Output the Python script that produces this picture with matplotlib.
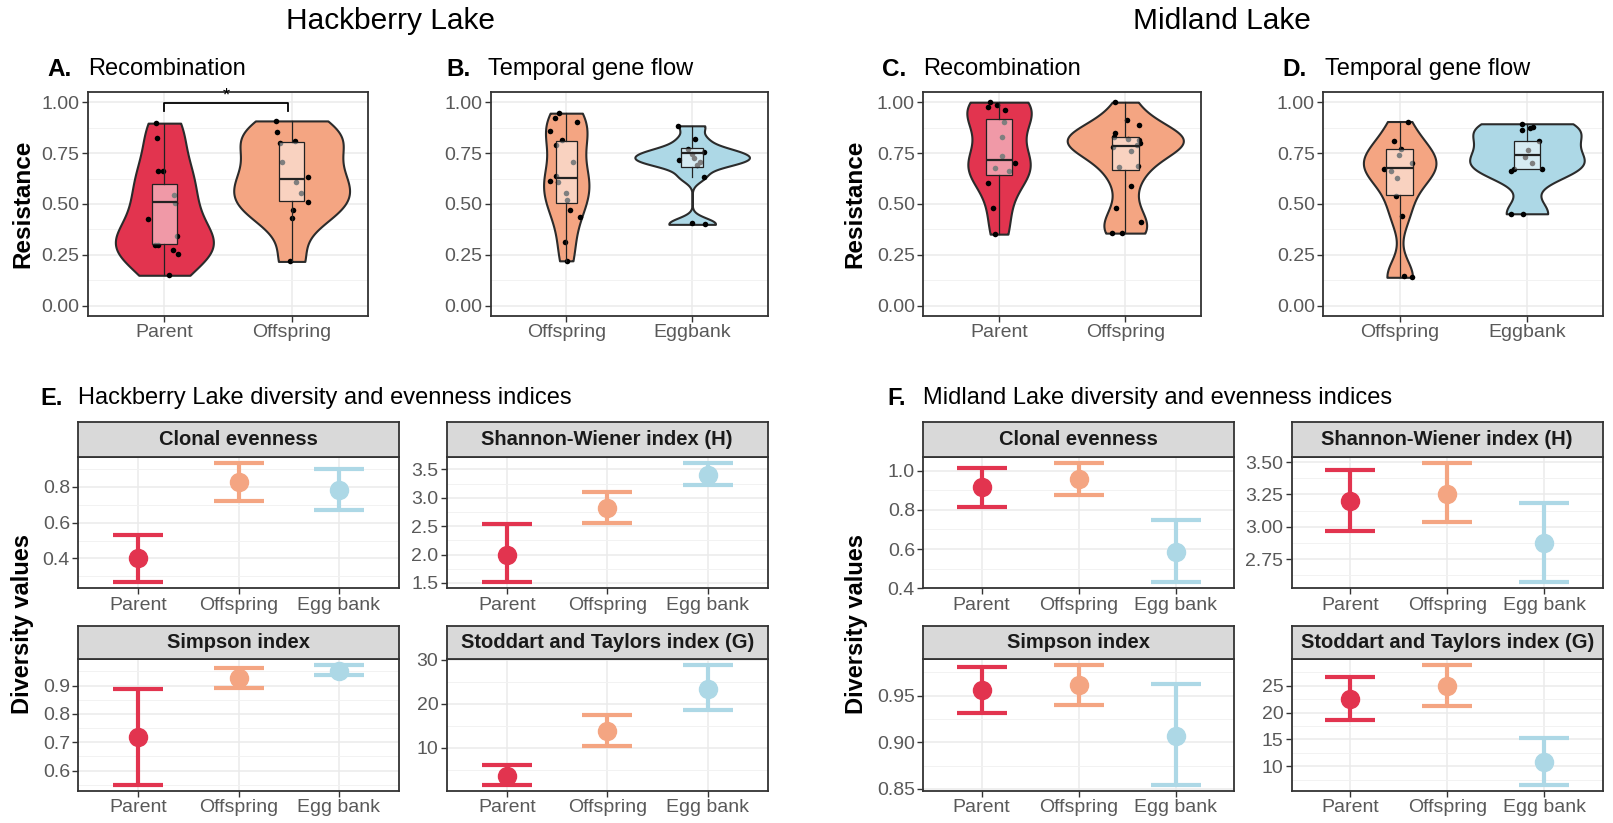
"""Hackberry / Midland lake resistance violins and diversity index facets."""

import matplotlib

matplotlib.use("Agg")
import matplotlib.pyplot as plt
import numpy as np
from matplotlib.ticker import AutoMinorLocator

plt.rcParams["font.family"] = ["Liberation Sans", "DejaVu Sans"]

W, H = 1613, 823
RED, ORANGE, BLUE = "#E2344F", "#F4A582", "#ADD8E6"
DARK = "#333333"
TICKC = "#595959"

# ---- violin panels (resistance) ----
HB_REC_PARENT = [0.15, 0.254, 0.275, 0.30, 0.30, 0.344, 0.427, 0.504, 0.542, 0.66, 0.664, 0.823, 0.897]
HB_REC_OFFSPRING = [0.218, 0.43, 0.471, 0.512, 0.553, 0.61, 0.635, 0.704, 0.80, 0.807, 0.856, 0.908]
HB_TGF_OFFSPRING = [0.221, 0.311, 0.434, 0.471, 0.52, 0.556, 0.61, 0.614, 0.638, 0.704,
                    0.79, 0.815, 0.86, 0.905, 0.92, 0.946]
HB_TGF_EGGBANK = [0.40, 0.405, 0.635, 0.69, 0.705, 0.717, 0.725, 0.745, 0.755, 0.77, 0.818, 0.884]
ML_REC_PARENT = [0.352, 0.48, 0.605, 0.66, 0.676, 0.70, 0.735, 0.828, 0.902, 0.962, 0.975, 0.985, 1.0]
ML_REC_OFFSPRING = [0.357, 0.36, 0.414, 0.48, 0.589, 0.68, 0.687, 0.758, 0.78, 0.79, 0.80,
                    0.815, 0.82, 0.83, 0.848, 0.889, 0.913, 1.0]
ML_TGF_OFFSPRING = [0.14, 0.144, 0.44, 0.54, 0.63, 0.66, 0.67, 0.70, 0.741, 0.769, 0.807, 0.905]
ML_TGF_EGGBANK = [0.452, 0.452, 0.66, 0.671, 0.671, 0.70, 0.733, 0.766, 0.807, 0.864, 0.872,
                  0.88, 0.894]

# box stats: (whislo, q1, med, q3, whishi)
HB_REC_BOX = [(0.15, 0.303, 0.509, 0.597, 0.895), (0.218, 0.515, 0.624, 0.804, 0.908)]
HB_TGF_BOX = [(0.221, 0.504, 0.63, 0.807, 0.946), (0.635, 0.684, 0.75, 0.777, 0.884)]
ML_REC_BOX = [(0.352, 0.642, 0.717, 0.917, 1.0), (0.357, 0.668, 0.787, 0.828, 1.0)]
ML_TGF_BOX = [(0.14, 0.542, 0.676, 0.769, 0.905), (0.671, 0.671, 0.741, 0.81, 0.894)]

REC_CATS = ["Parent", "Offspring"]
TGF_CATS = ["Offspring", "Eggbank"]
RES_TICKS = [0.0, 0.25, 0.5, 0.75, 1.0]
RES_TICKLABELS = ["0.00", "0.25", "0.50", "0.75", "1.00"]

# ---- diversity facets: mean, lower, upper for Parent / Offspring / Egg bank ----
DIV_CATS = ["Parent", "Offspring", "Egg bank"]
HB_CLONAL = ([0.40, 0.824, 0.78], [0.267, 0.72, 0.669], [0.53, 0.934, 0.897])
HB_SHANNON = ([2.0, 2.82, 3.41], [1.51, 2.56, 3.23], [2.53, 3.10, 3.62])
HB_SIMPSON = ([0.72, 0.928, 0.95], [0.55, 0.893, 0.938], [0.888, 0.962, 0.974])
HB_STODDART = ([3.5, 13.8, 23.4], [1.6, 10.4, 18.5], [6.1, 17.55, 28.9])
ML_CLONAL = ([0.915, 0.958, 0.586], [0.815, 0.876, 0.432], [1.014, 1.04, 0.746])
ML_SHANNON = ([3.196, 3.255, 2.876], [2.964, 3.033, 2.57], [3.436, 3.495, 3.186])
ML_SIMPSON = ([0.956, 0.961, 0.907], [0.9315, 0.94, 0.8546], [0.981, 0.983, 0.962])
ML_STODDART = ([22.6, 25.0, 10.75], [18.6, 21.25, 6.57], [26.6, 28.9, 15.3])

HB_CLONAL_TICKS, HB_CLONAL_LABELS = [0.4, 0.6, 0.8], ["0.4", "0.6", "0.8"]
HB_SHANNON_TICKS, HB_SHANNON_LABELS = [1.5, 2.0, 2.5, 3.0, 3.5], ["1.5", "2.0", "2.5", "3.0", "3.5"]
HB_SIMPSON_TICKS, HB_SIMPSON_LABELS = [0.6, 0.7, 0.8, 0.9], ["0.6", "0.7", "0.8", "0.9"]
HB_STODDART_TICKS, HB_STODDART_LABELS = [10, 20, 30], ["10", "20", "30"]
ML_CLONAL_TICKS, ML_CLONAL_LABELS = [0.4, 0.6, 0.8, 1.0], ["0.4", "0.6", "0.8", "1.0"]
ML_SHANNON_TICKS, ML_SHANNON_LABELS = [2.75, 3.0, 3.25, 3.5], ["2.75", "3.00", "3.25", "3.50"]
ML_SIMPSON_TICKS, ML_SIMPSON_LABELS = [0.85, 0.90, 0.95], ["0.85", "0.90", "0.95"]
ML_STODDART_TICKS, ML_STODDART_LABELS = [10, 15, 20, 25], ["10", "15", "20", "25"]


def rect(x0, y0, x1, y1):
    return [x0 / W, 1 - y1 / H, (x1 - x0) / W, (y1 - y0) / H]


def nrd0(kde):
    # R's bw.nrd0 (with a slight adjust) expressed as a factor of the sample sd
    d = np.asarray(kde.dataset).ravel()
    sd = d.std(ddof=1)
    q75, q25 = np.percentile(d, [75, 25])
    lo = min(sd, (q75 - q25) / 1.34) if q75 > q25 else sd
    return 0.85 * 0.9 * lo * len(d) ** -0.2 / sd


def style(ax):
    ax.set_facecolor("white")
    for s in ax.spines.values():
        s.set_color(DARK)
        s.set_linewidth(1.3)
    ax.yaxis.set_minor_locator(AutoMinorLocator(2))
    ax.grid(True, which="major", color="#EBEBEB", lw=1.1)
    ax.grid(True, which="minor", axis="y", color="#F2F2F2", lw=0.7)
    ax.set_axisbelow(True)
    ax.tick_params(which="major", length=4, width=1, color=DARK, labelcolor=TICKC,
                   labelsize=14, pad=2)
    ax.tick_params(which="minor", length=0)


rng = np.random.default_rng(7)


def violin_panel(box, data, box_stats, cats, colors, vwidths, bwidth):
    ax = fig.add_axes(rect(*box))
    style(ax)
    pos = [1, 2]
    parts = ax.violinplot(data, positions=pos, widths=vwidths, showextrema=False,
                          points=300, bw_method=nrd0)
    for body, c in zip(parts["bodies"], colors):
        body.set_facecolor(c)
        body.set_edgecolor("#2b2b2b")
        body.set_linewidth(1.5)
        body.set_alpha(1)
        body.set_zorder(2)
    for p, vals in zip(pos, data):
        jit = rng.uniform(-0.13, 0.13, len(vals))
        ax.scatter(p + jit, vals, s=16, color="black", zorder=3, lw=0)
    stats = [dict(whislo=b[0], q1=b[1], med=b[2], q3=b[3], whishi=b[4], fliers=[])
             for b in box_stats]
    ax.bxp(stats, positions=pos, widths=bwidth, patch_artist=True, showfliers=False,
           showcaps=False, zorder=4,
           boxprops=dict(facecolor=(1, 1, 1, 0.5), edgecolor="#222222", lw=0.9),
           medianprops=dict(color="#222222", lw=1.6),
           whiskerprops=dict(color="#222222", lw=0.9))
    ax.set_xlim(0.4, 2.6)
    ax.set_ylim(-0.05, 1.05)
    ax.set_yticks(RES_TICKS)
    ax.set_yticklabels(RES_TICKLABELS)
    ax.set_xticks(pos)
    ax.set_xticklabels(cats)
    return ax


def facet(box, strip, title, series, ticks, labels):
    ax = fig.add_axes(rect(*box))
    style(ax)
    mean, lo, hi = series
    for i, c in enumerate([RED, ORANGE, BLUE]):
        ax.errorbar([i + 1], [mean[i]], yerr=[[mean[i] - lo[i]], [hi[i] - mean[i]]],
                    fmt="o", color=c, ms=13, elinewidth=3, capsize=18, capthick=3,
                    zorder=3)
    ax.set_xlim(0.4, 3.6)
    ax.margins(y=0.05)
    ax.set_yticks(ticks)
    ax.set_yticklabels(labels)
    ax.set_xticks([1, 2, 3])
    ax.set_xticklabels(DIV_CATS)
    sa = fig.add_axes(rect(*strip))
    sa.set_facecolor("#D9D9D9")
    sa.set_xticks([])
    sa.set_yticks([])
    for s in sa.spines.values():
        s.set_color(DARK)
        s.set_linewidth(1.3)
    sa.text(0.5, 0.5, title, ha="center", va="center", fontsize=14.5,
            fontweight="bold", color="#1a1a1a", transform=sa.transAxes)
    return ax


fig = plt.figure(figsize=(W / 100, H / 100), dpi=100)

# top row
axA = violin_panel((88, 92, 368, 316), [HB_REC_PARENT, HB_REC_OFFSPRING], HB_REC_BOX,
                   REC_CATS, [RED, ORANGE], [0.77, 0.91], 0.2)
axA.plot([1, 1, 1.97, 1.97], [0.955, 0.995, 0.995, 0.955], color="black", lw=1.3, zorder=5)
axA.text(1.49, 0.99, "*", ha="center", va="bottom", fontsize=13, zorder=5)
violin_panel((490.7, 92, 767.7, 316), [HB_TGF_OFFSPRING, HB_TGF_EGGBANK], HB_TGF_BOX,
             TGF_CATS, [ORANGE, BLUE], [0.36, 0.91], 0.17)
violin_panel((923.3, 92, 1201, 316), [ML_REC_PARENT, ML_REC_OFFSPRING], ML_REC_BOX,
             REC_CATS, [RED, ORANGE], [0.51, 0.92], 0.21)
violin_panel((1323.3, 92, 1603.3, 316), [ML_TGF_OFFSPRING, ML_TGF_EGGBANK], ML_TGF_BOX,
             TGF_CATS, [ORANGE, BLUE], [0.57, 0.9], 0.21)

# bottom facets
r1 = (422.3, 456.7, 588.3)
r2 = (625.7, 658.7, 790.7)
cols = [(78.3, 399), (446.7, 767.7), (923.3, 1234), (1291.7, 1602.7)]
specs = [
    (0, r1, "Clonal evenness", HB_CLONAL, HB_CLONAL_TICKS, HB_CLONAL_LABELS),
    (1, r1, "Shannon-Wiener index (H)", HB_SHANNON, HB_SHANNON_TICKS, HB_SHANNON_LABELS),
    (0, r2, "Simpson index", HB_SIMPSON, HB_SIMPSON_TICKS, HB_SIMPSON_LABELS),
    (1, r2, "Stoddart and Taylors index (G)", HB_STODDART, HB_STODDART_TICKS, HB_STODDART_LABELS),
    (2, r1, "Clonal evenness", ML_CLONAL, ML_CLONAL_TICKS, ML_CLONAL_LABELS),
    (3, r1, "Shannon-Wiener index (H)", ML_SHANNON, ML_SHANNON_TICKS, ML_SHANNON_LABELS),
    (2, r2, "Simpson index", ML_SIMPSON, ML_SIMPSON_TICKS, ML_SIMPSON_LABELS),
    (3, r2, "Stoddart and Taylors index (G)", ML_STODDART, ML_STODDART_TICKS, ML_STODDART_LABELS),
]
for ci, (st, sb, pb), ttl, ser, tk, lb in specs:
    x0, x1 = cols[ci]
    facet((x0, sb, x1, pb), (x0, st, x1, sb), ttl, ser, tk, lb)


def ftext(x, y, s, **kw):
    fig.text(x / W, 1 - y / H, s, **kw)


ftext(391, 21, "Hackberry Lake", ha="center", va="center", fontsize=21.5)
ftext(1222, 21, "Midland Lake", ha="center", va="center", fontsize=21.5)
for lx, tx, lab, ttl in [(47, 88, "A.", "Recombination"), (446.7, 488, "B.", "Temporal gene flow"),
                         (881.7, 923.3, "C.", "Recombination"), (1282.7, 1325, "D.", "Temporal gene flow")]:
    ftext(lx, 69, lab, ha="left", va="center", fontsize=17.5, fontweight="bold")
    ftext(tx, 69, ttl, ha="left", va="center", fontsize=17)
ftext(40, 398, "E.", ha="left", va="center", fontsize=17, fontweight="bold")
ftext(78, 398, "Hackberry Lake diversity and evenness indices", ha="left", va="center", fontsize=17)
ftext(887, 398, "F.", ha="left", va="center", fontsize=17, fontweight="bold")
ftext(923, 398, "Midland Lake diversity and evenness indices", ha="left", va="center", fontsize=17)
for x in (23, 855):
    ftext(x, 204, "Resistance", ha="center", va="center", rotation=90, fontsize=17.5,
          fontweight="bold")
for x in (23, 857):
    ftext(x, 624, "Diversity values", ha="center", va="center", rotation=90, fontsize=17,
          fontweight="bold")

fig.savefig("out.png", dpi=100)
